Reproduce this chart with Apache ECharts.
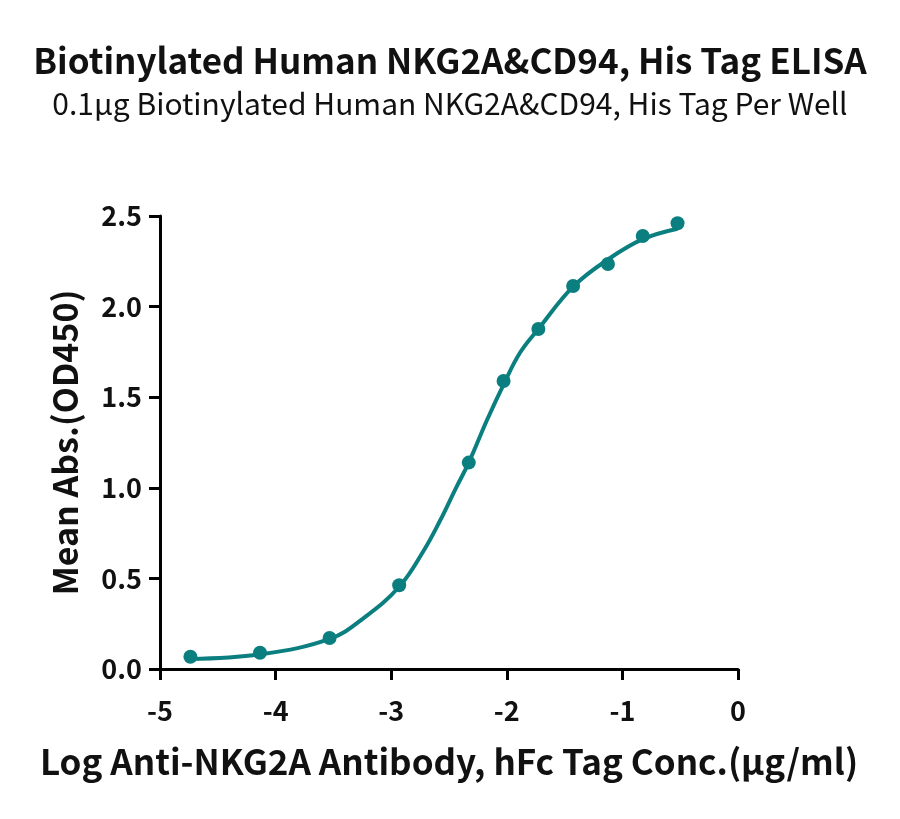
<!DOCTYPE html>
<html>
<head>
<meta charset="utf-8">
<title>NKG2A&CD94 ELISA</title>
<script src="https://cdn.jsdelivr.net/npm/echarts@6/dist/echarts.min.js"></script>
<style>
  html, body { margin: 0; padding: 0; background: #fff; }
  #chart { width: 900px; height: 819px; }
</style>
</head>
<body>
<div id="chart"></div>
<script>
// measured points (log conc, OD450)
var logConc = [-4.737, -4.135, -3.533, -2.931, -2.329, -2.028, -1.727, -1.426, -1.125, -0.824, -0.523];
var meanAbs = [0.068, 0.090, 0.171, 0.462, 1.139, 1.589, 1.876, 2.114, 2.235, 2.390, 2.460];

// fitted curve
var fitX = [-4.737, -4.135, -3.533, -3.23, -2.931, -2.722, -2.578, -2.439, -2.329, -2.174, -2.028, -1.886, -1.727, -1.426, -1.125, -0.824, -0.523];
var fitY = [0.055, 0.081, 0.166, 0.285, 0.454, 0.65, 0.818, 1.0, 1.139, 1.37, 1.57, 1.745, 1.876, 2.11, 2.26, 2.372, 2.43];

var xTicks = [-5, -4, -3, -2, -1, 0];
var yTicks = [0, 0.5, 1, 1.5, 2, 2.5];

var mainTitle = 'Biotinylated Human NKG2A&CD94, His Tag ELISA';
var subTitle = '0.1μg Biotinylated Human NKG2A&CD94, His Tag Per Well';
var xName = 'Log Anti-NKG2A Antibody, hFc Tag Conc.(μg/ml)';
var yName = 'Mean Abs.(OD450)';

var teal = '#0b7f80';
var font = '"Noto Sans CJK SC", "Source Sans Pro", sans-serif';

var points = logConc.map(function (x, i) { return [x, meanAbs[i]]; });
var curve = fitX.map(function (x, i) { return [x, fitY[i]]; });

var chart = echarts.init(document.getElementById('chart'));
var option = {
    backgroundColor: '#fff',
    animation: false,
    title: [{
        text: mainTitle,
        left: 'center',
        top: 38,
        textStyle: { fontFamily: font, fontSize: 35, fontWeight: 'bold', color: '#111' }
    }, {
        text: subTitle,
        left: 'center',
        top: 84,
        textStyle: { fontFamily: font, fontSize: 30, fontWeight: 'normal', color: '#111' }
    }],
    grid: { left: 160, right: 162, top: 216, bottom: 150, containLabel: false },
    xAxis: {
        type: 'value',
        min: xTicks[0],
        max: xTicks[xTicks.length - 1],
        interval: 1,
        name: xName,
        nameLocation: 'middle',
        nameGap: 75,
        nameTextStyle: { fontFamily: font, fontSize: 35, fontWeight: 'bold', color: '#111' },
        axisLine: { onZero: false, lineStyle: { color: '#000', width: 3 } },
        axisTick: { length: 11, lineStyle: { color: '#000', width: 3 } },
        axisLabel: { margin: 28, fontFamily: font, fontSize: 27, fontWeight: 'bold', color: '#111' },
        splitLine: { show: false }
    },
    yAxis: {
        type: 'value',
        position: 'left',
        min: yTicks[0],
        max: yTicks[yTicks.length - 1],
        interval: 0.5,
        name: yName,
        nameLocation: 'middle',
        nameGap: 78,
        nameTextStyle: { fontFamily: font, fontSize: 34, fontWeight: 'bold', color: '#111' },
        axisLine: { onZero: false, lineStyle: { color: '#000', width: 3 } },
        axisTick: { length: 11, lineStyle: { color: '#000', width: 3 } },
        axisLabel: {
            margin: 18, fontFamily: font, fontSize: 27, fontWeight: 'bold', color: '#111',
            formatter: function (v) { return v.toFixed(1); }
        },
        splitLine: { show: false }
    },
    series: [{
        name: 'fit',
        type: 'line',
        data: curve,
        smooth: 0.4,
        showSymbol: false,
        lineStyle: { color: teal, width: 4 },
        z: 2
    }, {
        name: 'data',
        type: 'scatter',
        data: points,
        symbol: 'circle',
        symbolSize: 14,
        itemStyle: { color: teal, opacity: 1 },
        z: 3
    }]
};
chart.setOption(option);
</script>
</body>
</html>
